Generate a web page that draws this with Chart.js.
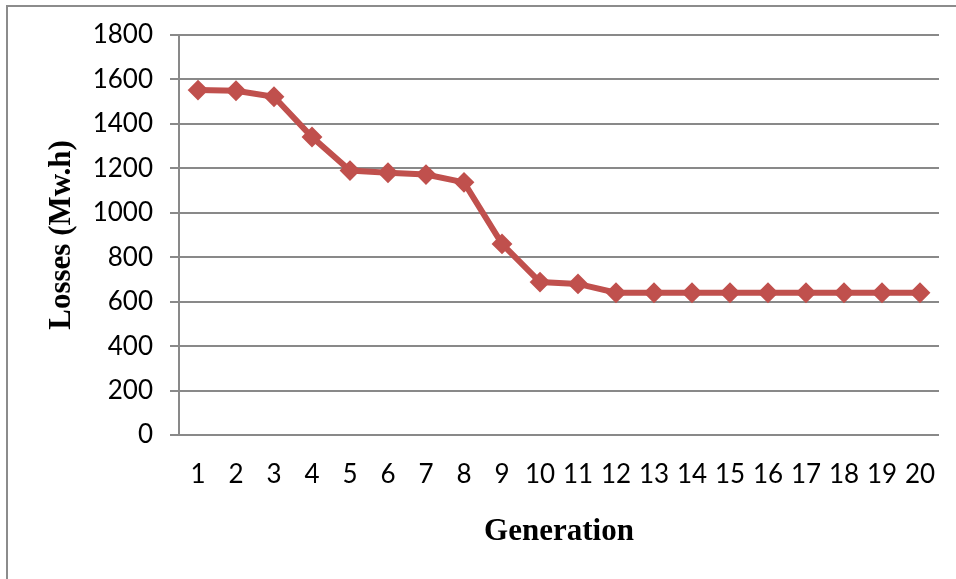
<!DOCTYPE html>
<html>
<head>
<meta charset="utf-8">
<script src="https://cdn.jsdelivr.net/npm/chart.js@4"></script>
<style>
  html, body { margin: 0; padding: 0; background: #ffffff; overflow: hidden; }
  #wrap { position: relative; width: 956px; height: 579px; overflow: hidden; }
  #frame { position: absolute; left: 6px; top: 5px; width: 2000px; height: 2000px;
           border: 2px solid #8c8c8c; box-sizing: border-box; }
  #chart { position: absolute; left: 0; top: 0; }
</style>
</head>
<body>
<div id="wrap">
  <div id="frame"></div>
  <canvas id="chart" width="956" height="579"></canvas>
</div>
<script>
// Generation numbers on the horizontal axis
const generations = ['1','2','3','4','5','6','7','8','9','10',
                     '11','12','13','14','15','16','17','18','19','20'];
// Best losses found in each generation (Mw.h)
const losses = [1552, 1549, 1522, 1341, 1190, 1180, 1172, 1137, 860, 688,
                680, 640, 640, 640, 640, 640, 640, 640, 640, 640];
// Vertical axis range and step
const yMin = 0;
const yMax = 1800;
const yStep = 200;

const axisGrey = '#898989';
const lineRed = '#C0504D';
const tickFont = { family: 'Lato, "Liberation Sans", sans-serif', size: 26 };
const titleFont = { family: '"Liberation Serif", "Times New Roman", serif', size: 31, weight: 'bold' };

new Chart(document.getElementById('chart'), {
  type: 'line',
  data: {
    labels: generations,
    datasets: [{
      data: losses,
      borderColor: lineRed,
      backgroundColor: lineRed,
      borderWidth: 6,
      tension: 0,
      pointStyle: 'rectRot',
      pointRadius: 9,
      pointBorderWidth: 2,
      pointBackgroundColor: lineRed,
      pointBorderColor: lineRed
    }]
  },
  options: {
    responsive: false,
    animation: false,
    devicePixelRatio: 1,
    layout: { padding: { left: 10, top: 35, right: 17, bottom: 0 } },
    plugins: {
      legend: { display: false },
      tooltip: { enabled: false }
    },
    scales: {
      x: {
        type: 'category',
        offset: true,
        grid: { display: false, drawTicks: true, tickLength: 8 },
        border: { display: false },
        ticks: { font: tickFont, color: '#000000', padding: 16, maxRotation: 0, autoSkip: false },
        title: { display: true, text: 'Generation', font: titleFont, color: '#000000',
                 padding: { top: 0, bottom: 28 } },
        afterFit: (s) => { s.height = 144; }
      },
      y: {
        min: yMin,
        max: yMax,
        ticks: { stepSize: yStep, font: tickFont, color: '#000000', padding: 17,
                 callback: (v) => String(v) },
        grid: { color: axisGrey, lineWidth: 2, tickLength: 9, drawTicks: true },
        border: { display: true, color: axisGrey, width: 2 },
        title: { display: true, text: 'Losses (Mw.h)', font: titleFont, color: '#000000',
                 padding: { top: 33, bottom: 0 } },
        afterFit: (s) => { s.width = 169; }
      }
    }
  }
});
</script>
</body>
</html>
